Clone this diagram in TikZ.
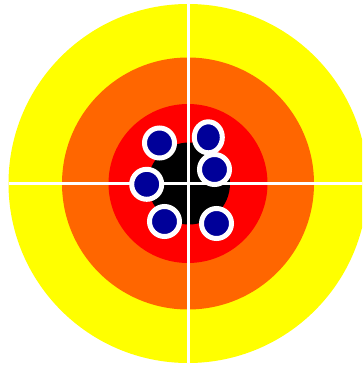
\documentclass[tikz,border=0pt]{standalone}
\begin{document}
\begin{tikzpicture}[x=1pt,y=-1pt,
  hit/.style={fill=hitblue,draw=white,line width=5pt},
  cross/.style={draw=white,line width=3pt}]
\definecolor{hitblue}{HTML}{000099}
\definecolor{ringyellow}{HTML}{FFFF00}
\definecolor{ringorange}{HTML}{FF6600}
\definecolor{ringred}{HTML}{FF0000}
\definecolor{ringblack}{HTML}{000000}
\useasboundingbox (0,0) rectangle (362,366);
\clip (0,0) rectangle (362,366);
\coordinate (c) at (188,183.5);
\fill[ringyellow] (c) circle (179.5);
\fill[ringorange] (c) circle (126);
\fill[ringred] (c) circle (79.5);
\fill[ringblack] (189,183.5) circle (41);
\draw[cross] (8.5,183.5) -- (370,183.5);
\draw[cross] (188,4) -- (188,363);
\filldraw[hit] (159.5,143) circle (15);
\filldraw[hit] (208.3,137.3) ellipse (14 and 15.5);
\filldraw[hit] (214.5,169.5) circle (15);
\filldraw[hit] (146.7,184.3) circle (15);
\filldraw[hit] (164.5,221.5) circle (15);
\filldraw[hit] (216.5,223.5) circle (15);
\end{tikzpicture}
\end{document}
